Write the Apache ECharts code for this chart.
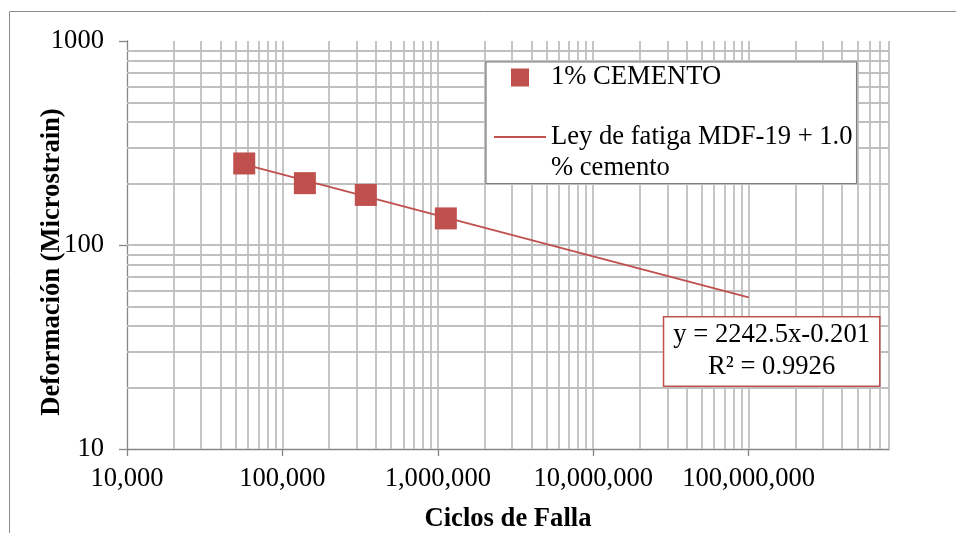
<!DOCTYPE html>
<html>
<head>
<meta charset="utf-8">
<script src="https://cdn.jsdelivr.net/npm/echarts@6/dist/echarts.min.js"></script>
<style>
  html, body { margin: 0; padding: 0; background: #fff; }
  #chart { width: 956px; height: 533px; }
</style>
</head>
<body>
<div id="chart"></div>
<script>
// Fatigue test: cycles to failure vs. tensile strain, MDF-19 mix + 1% cement
const ciclos = [56800, 139500, 344000, 1126000];
const deformacion = [251, 201, 176, 135];
const serieNombre = '1% CEMENTO';
const leyNombre = 'Ley de fatiga MDF-19 + 1.0\n% cemento';

// Power-law fatigue law y = a * x^b and its fit quality
const leyCoef = [2242.5, -0.201];
const leyR2 = 0.9926;
const leyRango = [56800, 100000000];

const xTicks = [10000, 100000, 1000000, 10000000, 100000000];
const xTickLabels = ['10,000', '100,000', '1,000,000', '10,000,000', '100,000,000'];
const yTicks = [10, 100, 1000];
const yTickLabels = ['10', '100', '1000'];

const xMin = 10000, xMax = 800000000;
const yMin = 10, yMax = 1000;

const rojo = '#C0504D';
const fuente = '"Liberation Serif", "Times New Roman", serif';
const tam = 26.6;

// Log-paper grid: every 1..9 step inside each decade
function lineasLog(min, max) {
  const out = [];
  for (let d = min; d < max; d *= 10) {
    for (let m = 1; m <= 9; m++) {
      const v = d * m;
      if (v > min && v <= max) out.push(v);
    }
  }
  return out;
}
const gridX = lineasLog(xMin, xMax);
const gridY = lineasLog(yMin, yMax);

const ley = x => leyCoef[0] * Math.pow(x, leyCoef[1]);
const leyDatos = leyRango.map(x => [x, ley(x)]);
const leyTexto = 'y = ' + leyCoef[0] + 'x' + leyCoef[1] + '\nR\u00b2 = ' + leyR2;

const chart = echarts.init(document.getElementById('chart'), null, { renderer: 'canvas' });

chart.setOption({
  animation: false,
  backgroundColor: '#fff',
  textStyle: { fontFamily: fuente },
  grid: { left: 127, right: 67, top: 41, bottom: 84, containLabel: false, outerBoundsMode: 'none' },
  graphic: [{
    type: 'rect',
    silent: true,
    shape: { x: 9.5, y: 11.5, width: 1200, height: 1200 },
    style: { fill: 'none', stroke: '#8c8c8c', lineWidth: 1 },
    z: 0
  }],
  legend: {
    orient: 'vertical',
    left: 486,
    top: 62,
    z: 20,
    selectedMode: false,
    backgroundColor: '#fff',
    borderColor: '#7f7f7f',
    borderWidth: 1.2,
    borderRadius: 0,
    padding: [0, 4, 0, 8],
    itemGap: -2.5,
    itemWidth: 52,
    itemHeight: 18,
    textStyle: { fontFamily: fuente, fontSize: tam, lineHeight: 31, color: '#000' },
    // the fatigue-law entry gets an empty lead line so its first text line sits beside the icon
    formatter: name => name === leyNombre ? '\n' + name : name,
    data: [
      { name: serieNombre, icon: 'path://M0,0L18,0L18,18L0,18Z', itemStyle: { color: rojo, borderWidth: 0 } },
      { name: leyNombre, icon: 'path://M0,0L52,0L52,1.8L0,1.8Z', itemStyle: { color: rojo, borderWidth: 0 } }
    ]
  },
  xAxis: {
    type: 'log',
    logBase: 10,
    min: xMin,
    max: xMax,
    name: 'Ciclos de Falla',
    nameLocation: 'middle',
    nameMoveOverlap: false,
    nameGap: 57,
    nameTextStyle: { fontFamily: fuente, fontSize: tam, fontWeight: 'bold', color: '#000', lineHeight: 26 },
    axisLine: { show: true, lineStyle: { color: '#868686', width: 1.3 } },
    axisTick: { show: true, length: 7, lineStyle: { color: '#868686', width: 1.3 }, customValues: xTicks },
    axisLabel: {
      show: true,
      margin: 17,
      fontFamily: fuente,
      fontSize: tam,
      color: '#000',
      customValues: xTicks,
      formatter: v => xTickLabels[Math.round(Math.log10(v)) - 4]
    },
    splitLine: { show: false },
    minorTick: { show: false },
    minorSplitLine: { show: false }
  },
  yAxis: {
    type: 'log',
    logBase: 10,
    min: yMin,
    max: yMax,
    name: 'Deformación (Microstrain)',
    nameLocation: 'middle',
    nameMoveOverlap: false,
    nameGap: 61,
    nameTextStyle: { fontFamily: fuente, fontSize: tam, fontWeight: 'bold', color: '#000', padding: [0, 34, 0, 0] },
    axisLine: { show: true, lineStyle: { color: '#868686', width: 1.3 } },
    axisTick: { show: true, length: 8, lineStyle: { color: '#868686', width: 1.3 }, customValues: yTicks },
    axisLabel: {
      show: true,
      margin: 23,
      fontFamily: fuente,
      fontSize: tam,
      color: '#000',
      customValues: yTicks,
      formatter: v => yTickLabels[Math.round(Math.log10(v)) - 1]
    },
    splitLine: { show: false }
  },
  series: [
    {
      name: serieNombre,
      type: 'scatter',
      z: 10,
      symbol: 'rect',
      symbolSize: 22,
      itemStyle: { color: rojo, opacity: 1 },
      data: ciclos.map((c, i) => [c, deformacion[i]]),
      markLine: {
        silent: true,
        symbol: 'none',
        animation: false,
        label: { show: false },
        emphasis: { disabled: true },
        lineStyle: { color: '#bfbfbf', width: 1.8, type: 'solid' },
        data: gridX.map(v => ({ xAxis: v })).concat(gridY.map(v => ({ yAxis: v })))
      }
    },
    {
      name: leyNombre,
      type: 'line',
      z: 9,
      silent: true,
      symbol: 'circle',
      symbolSize: 0,
      showSymbol: true,
      lineStyle: { color: rojo, width: 1.8 },
      itemStyle: { color: rojo },
      data: leyDatos.map((p, i) => i === leyDatos.length - 1 ? {
        value: p,
        label: {
          show: true,
          position: 'inside',
          offset: [23, 54],
          formatter: leyTexto,
          fontFamily: fuente,
          fontSize: tam,
          lineHeight: 32,
          color: '#000',
          align: 'center',
          verticalAlign: 'middle',
          backgroundColor: '#fff',
          borderColor: rojo,
          borderWidth: 1.5,
          padding: [4, 9, 0, 9]
        }
      } : { value: p })
    }
  ]
});
</script>
</body>
</html>
